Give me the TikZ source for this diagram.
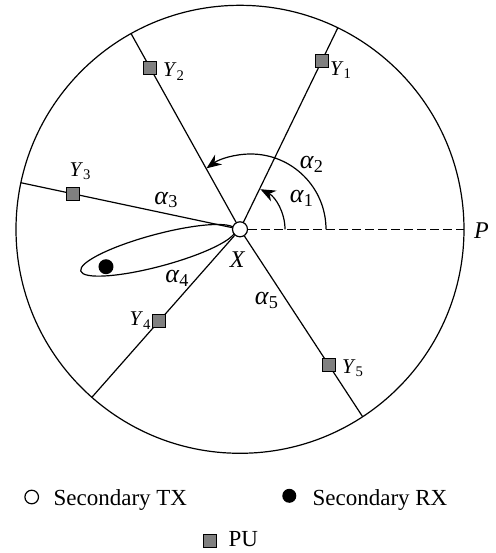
\documentclass[tikz,border=0pt]{standalone}
\usepackage{fontspec}
\setmainfont{Liberation Serif}
\usetikzlibrary{arrows.meta}
\definecolor{pugray}{gray}{0.5}
\newcommand{\lbl}[2]{\textit{#1}\textsubscript{#2}}

\begin{document}
\begin{tikzpicture}[x=0.5pt,y=0.5pt,line width=0.6pt,
  pu/.style={draw,fill=pugray,minimum size=6.5pt,inner sep=0pt},
  tx/.style={circle,draw,fill=white,minimum size=7.5pt,inner sep=0pt},
  rx/.style={circle,fill=black,minimum size=7.5pt,inner sep=0pt},
  ylab/.style={font=\fontsize{10.5}{12}\selectfont,inner sep=0pt},
  alab/.style={font=\fontsize{13}{15}\selectfont,inner sep=0pt},
  legend/.style={font=\fontsize{11.5}{13}\selectfont,anchor=base west,inner sep=0pt}]
  \useasboundingbox (-240,229.3) rectangle (256,-323.7);
  \def \R {224}

  % beam towards the secondary RX
  \draw[rotate around={195:(-82,-21)}] (-82,-21) ellipse [x radius=80,y radius=16];
  \node[rx] (rx) at (-134,-37.4) {};
  \node[tx] (tx) at (0,0) {};

  \draw (0,0) circle (\R);
  \coordinate (p) at (\R,0);
  \draw[dash pattern=on 4.5pt off 2pt] (tx) -- (p);

  \foreach \a/\d/\i in {64.1/187/1,119.1/184.5/2,168/170.7/3,228.6/122/4,303.2/162/5}{
    \coordinate (e\i) at (\a:\R);
    \draw (tx) -- (e\i);
    \node[pu] (y\i) at (\a:\d) {};
  }

  \draw[-{Stealth[length=7.5pt,width=6pt]}] (45,0) arc[start angle=0,end angle=63,radius=45];
  \draw[-{Stealth[length=7.5pt,width=6pt]}] (86,0) arc[start angle=0,end angle=126,radius=75.3];

  \node[ylab] (ly1) at (101,159.3) {\lbl{Y}{1}};
  \node[ylab] (ly2) at (-66,157.8) {\lbl{Y}{2}};
  \node[ylab] (ly3) at (-159.5,57.8) {\lbl{Y}{3}};
  \node[ylab] (ly4) at (-99.5,-91.2) {\lbl{Y}{4}};
  \node[ylab] (ly5) at (113,-138.7) {\lbl{Y}{5}};

  \node[alab] (la1) at (62,30.8) {\lbl{α}{1}};
  \node[alab] (la2) at (72,65.3) {\lbl{α}{2}};
  \node[alab] (la3) at (-73.5,29.3) {\lbl{α}{3}};
  \node[alab] (la4) at (-62.5,-49.2) {\lbl{α}{4}};
  \node[alab] (la5) at (27,-71.2) {\lbl{α}{5}};

  \node[alab,font=\fontsize{12}{14}\selectfont] (lx) at (-2.5,-30.2) {\textit{X}};
  \node[alab,font=\fontsize{12}{14}\selectfont] (lp) at (241.5,-1.2) {\textit{P}};

  % legend
  \node[tx,minimum size=6.8pt] (ktx) at (-208.3,-267.7) {};
  \node[legend] (ltx) at (-187,-275.7) {Secondary TX};
  \node[rx,minimum size=7pt] (krx) at (49.3,-266.5) {};
  \node[legend] (lrx) at (72,-275.7) {Secondary RX};
  \node[pu] (kpu) at (-30,-311.4) {};
  \node[legend] (lpu) at (-12,-316.7) {PU};
\end{tikzpicture}
\end{document}
